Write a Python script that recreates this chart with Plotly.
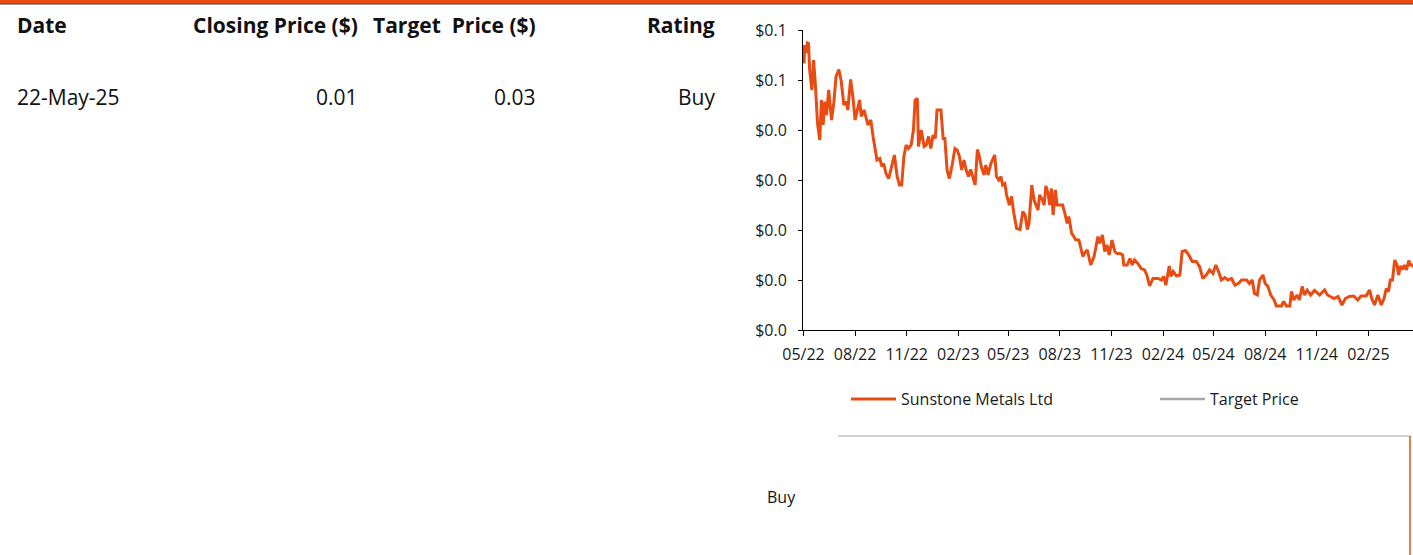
import plotly.graph_objects as go

W, H = 1413, 555

# ---------------- data ----------------
dates = [
    "2022-05-24", "2022-05-25", "2022-05-28", "2022-05-30", "2022-06-01", "2022-06-03", "2022-06-07", "2022-06-10",
    "2022-06-13", "2022-06-17", "2022-06-21", "2022-06-24", "2022-06-27", "2022-06-30", "2022-07-03", "2022-07-07",
    "2022-07-12", "2022-07-16", "2022-07-20", "2022-07-25", "2022-07-29", "2022-08-03", "2022-08-07", "2022-08-10",
    "2022-08-15", "2022-08-19", "2022-08-23", "2022-08-27", "2022-08-31", "2022-09-03", "2022-09-08", "2022-09-15",
    "2022-09-20", "2022-09-24", "2022-09-28", "2022-10-01", "2022-10-06", "2022-10-10", "2022-10-13", "2022-10-17",
    "2022-10-22", "2022-10-26", "2022-11-01", "2022-11-06", "2022-11-10", "2022-11-14", "2022-11-18", "2022-11-22",
    "2022-11-26", "2022-12-01", "2022-12-05", "2022-12-08", "2022-12-12", "2022-12-14", "2022-12-19", "2022-12-24",
    "2022-12-28", "2023-01-01", "2023-01-05", "2023-01-09", "2023-01-13", "2023-01-16", "2023-01-21", "2023-01-23",
    "2023-01-27", "2023-01-30", "2023-02-03", "2023-02-07", "2023-02-12", "2023-02-17", "2023-02-21", "2023-02-25",
    "2023-03-01", "2023-03-05", "2023-03-09", "2023-03-13", "2023-03-17", "2023-03-22", "2023-03-25", "2023-03-29",
    "2023-04-01", "2023-04-05", "2023-04-10", "2023-04-13", "2023-04-17", "2023-04-22", "2023-04-26", "2023-04-29",
    "2023-05-02", "2023-05-06", "2023-05-10", "2023-05-13", "2023-05-17", "2023-05-20", "2023-05-25", "2023-05-29",
    "2023-06-02", "2023-06-07", "2023-06-13", "2023-06-18", "2023-06-22", "2023-06-26", "2023-06-29", "2023-07-04",
    "2023-07-08", "2023-07-11", "2023-07-15", "2023-07-18", "2023-07-23", "2023-07-26", "2023-07-29", "2023-08-02",
    "2023-08-05", "2023-08-08", "2023-08-11", "2023-08-15", "2023-08-18", "2023-08-23", "2023-08-28", "2023-09-01",
    "2023-09-05", "2023-09-08", "2023-09-13", "2023-09-17", "2023-09-20", "2023-09-26", "2023-09-29", "2023-10-03",
    "2023-10-07", "2023-10-11", "2023-10-14", "2023-10-17", "2023-10-23", "2023-10-26", "2023-10-30", "2023-11-02",
    "2023-11-07", "2023-11-11", "2023-11-15", "2023-11-19", "2023-11-24", "2023-11-29", "2023-12-03", "2023-12-08",
    "2023-12-13", "2023-12-15", "2023-12-21", "2023-12-26", "2023-12-30", "2024-01-03", "2024-01-09", "2024-01-15",
    "2024-01-21", "2024-01-25", "2024-01-30", "2024-02-05", "2024-02-14", "2024-02-20", "2024-02-24", "2024-02-28",
    "2024-03-05", "2024-03-08", "2024-03-12", "2024-03-18", "2024-03-24", "2024-03-28", "2024-04-03", "2024-04-09",
    "2024-04-15", "2024-04-22", "2024-04-28", "2024-05-04", "2024-05-10", "2024-05-16", "2024-05-22", "2024-05-27",
    "2024-05-31", "2024-06-06", "2024-06-12", "2024-06-18", "2024-06-24", "2024-06-30", "2024-07-06", "2024-07-12",
    "2024-07-21", "2024-07-26", "2024-07-31", "2024-08-04", "2024-08-09", "2024-08-13", "2024-08-19", "2024-08-23",
    "2024-08-28", "2024-09-02", "2024-09-08", "2024-09-12", "2024-09-21", "2024-09-25", "2024-09-30", "2024-10-06",
    "2024-10-09", "2024-10-13", "2024-10-19", "2024-10-23", "2024-10-28", "2024-11-01", "2024-11-06", "2024-11-12",
    "2024-11-19", "2024-11-28", "2024-12-07", "2024-12-12", "2024-12-18", "2024-12-24", "2024-12-31", "2025-01-07",
    "2025-01-13", "2025-01-20", "2025-01-28", "2025-02-04", "2025-02-10", "2025-02-19", "2025-02-25", "2025-03-01",
    "2025-03-06", "2025-03-12", "2025-03-18", "2025-03-23", "2025-03-27", "2025-03-31", "2025-04-03", "2025-04-07",
    "2025-04-11", "2025-04-15", "2025-04-18", "2025-04-21", "2025-04-25", "2025-04-28", "2025-05-02", "2025-05-06",
    "2025-05-09", "2025-05-13", "2025-05-16", "2025-05-22",
]
prices = [
    0.0533, 0.0570, 0.0554, 0.0574, 0.0573, 0.0520, 0.0480, 0.0540,
    0.0494, 0.0414, 0.0380, 0.0460, 0.0410, 0.0457, 0.0430, 0.0480,
    0.0420, 0.0454, 0.0507, 0.0521, 0.0500, 0.0450, 0.0457, 0.0440,
    0.0501, 0.0467, 0.0420, 0.0440, 0.0460, 0.0427, 0.0440, 0.0410,
    0.0420, 0.0387, 0.0360, 0.0340, 0.0343, 0.0327, 0.0333, 0.0313,
    0.0303, 0.0320, 0.0350, 0.0307, 0.0290, 0.0290, 0.0347, 0.0370,
    0.0363, 0.0370, 0.0400, 0.0460, 0.0463, 0.0367, 0.0400, 0.0367,
    0.0370, 0.0387, 0.0363, 0.0390, 0.0383, 0.0440, 0.0441, 0.0440,
    0.0383, 0.0383, 0.0320, 0.0303, 0.0330, 0.0363, 0.0360, 0.0347,
    0.0320, 0.0340, 0.0320, 0.0307, 0.0321, 0.0300, 0.0290, 0.0361,
    0.0350, 0.0327, 0.0310, 0.0330, 0.0310, 0.0333, 0.0343, 0.0350,
    0.0307, 0.0300, 0.0307, 0.0290, 0.0293, 0.0270, 0.0250, 0.0267,
    0.0233, 0.0203, 0.0201, 0.0237, 0.0230, 0.0201, 0.0213, 0.0290,
    0.0260, 0.0250, 0.0240, 0.0270, 0.0260, 0.0250, 0.0288, 0.0273,
    0.0250, 0.0283, 0.0230, 0.0280, 0.0250, 0.0250, 0.0250, 0.0233,
    0.0213, 0.0227, 0.0193, 0.0187, 0.0181, 0.0180, 0.0165, 0.0147,
    0.0155, 0.0160, 0.0145, 0.0130, 0.0147, 0.0165, 0.0187, 0.0173,
    0.0190, 0.0157, 0.0170, 0.0150, 0.0180, 0.0157, 0.0153, 0.0153,
    0.0150, 0.0130, 0.0130, 0.0143, 0.0130, 0.0140, 0.0133, 0.0123,
    0.0120, 0.0110, 0.0088, 0.0103, 0.0103, 0.0100, 0.0107, 0.0090,
    0.0128, 0.0107, 0.0117, 0.0108, 0.0110, 0.0157, 0.0159, 0.0150,
    0.0137, 0.0137, 0.0127, 0.0103, 0.0110, 0.0120, 0.0113, 0.0130,
    0.0120, 0.0100, 0.0105, 0.0100, 0.0103, 0.0090, 0.0093, 0.0100,
    0.0100, 0.0093, 0.0100, 0.0073, 0.0070, 0.0100, 0.0110, 0.0093,
    0.0087, 0.0070, 0.0060, 0.0048, 0.0048, 0.0057, 0.0048, 0.0048,
    0.0077, 0.0060, 0.0070, 0.0060, 0.0087, 0.0070, 0.0080, 0.0070,
    0.0079, 0.0070, 0.0080, 0.0070, 0.0067, 0.0063, 0.0067, 0.0050,
    0.0063, 0.0067, 0.0068, 0.0060, 0.0068, 0.0068, 0.0080, 0.0063,
    0.0050, 0.0070, 0.0050, 0.0063, 0.0083, 0.0077, 0.0100, 0.0100,
    0.0140, 0.0130, 0.0110, 0.0128, 0.0121, 0.0130, 0.0120, 0.0139,
    0.0130, 0.0130, 0.0125, 0.0130,
]
target_dates = ["2025-05-22"]
target_prices = [0.03]

x_tick_dates = ["2022-05-23", "2022-08-23", "2022-11-23", "2023-02-23", "2023-05-23", "2023-08-23",
                "2023-11-23", "2024-02-23", "2024-05-23", "2024-08-23", "2024-11-23", "2025-02-23"]
x_tick_labels = ["05/22", "08/22", "11/22", "02/23", "05/23", "08/23",
                 "11/23", "02/24", "05/24", "08/24", "11/24", "02/25"]
y_tick_vals = [0.0, 0.01, 0.02, 0.03, 0.04, 0.05, 0.06]
y_tick_labels = ["$0.0", "$0.0", "$0.0", "$0.0", "$0.0", "$0.1", "$0.1"]

table_headers = ["Date", "Closing Price ($)", "Target  Price ($)", "Rating"]
table_row = ["22-May-25", "0.01", "0.03", "Buy"]
rating_label = "Buy"

ORANGE = "#E84C12"
GREY = "#A6A6A6"
FONT = "Open Sans"


def px(x):
    return x / W


def py(y):
    return 1 - y / H


fig = go.Figure()
fig.add_trace(go.Scatter(x=dates, y=prices, mode="lines", name="Sunstone Metals Ltd",
                         line=dict(color=ORANGE, width=3), cliponaxis=True))
fig.add_trace(go.Scatter(x=target_dates, y=target_prices, mode="lines", name="Target Price",
                         line=dict(color=GREY, width=2.5)))

fig.update_layout(
    width=W, height=H,
    margin=dict(l=0, r=0, t=0, b=0, pad=0, autoexpand=False),
    paper_bgcolor="white", plot_bgcolor="white",
    font=dict(family=FONT, color="#1a1a1a", size=14),
    showlegend=True,
    legend=dict(orientation="h", x=px(846), y=py(399), xanchor="left", yanchor="middle",
                font=dict(size=16, family=FONT, color="#1a1a1a"),
                entrywidth=249, entrywidthmode="pixels", bgcolor="rgba(0,0,0,0)",
                itemwidth=45, tracegroupgap=0),
    xaxis=dict(
        domain=[px(803), 1.0],
        range=["2022-05-22 03:00", "2025-05-13 14:00"],
        type="date",
        tickvals=x_tick_dates, ticktext=x_tick_labels, tickangle=0,
        ticks="outside", ticklen=5, tickcolor="#000", tickwidth=1,
        showline=True, linecolor="#000", linewidth=1,
        showgrid=False, zeroline=False,
        ticklabelstandoff=5,
        tickfont=dict(size=16, family=FONT, color="#1a1a1a"),
    ),
    yaxis=dict(
        domain=[py(330), py(30)],
        range=[0, 0.06],
        tickvals=y_tick_vals, ticktext=y_tick_labels,
        ticks="outside", ticklen=4, tickcolor="#000", tickwidth=1,
        showline=True, linecolor="#000", linewidth=1,
        showgrid=False, zeroline=False,
        ticklabelstandoff=8,
        tickfont=dict(size=16, family=FONT, color="#1a1a1a"),
    ),
)

shapes = [
    dict(type="rect", xref="paper", yref="paper", x0=0, x1=1, y0=py(3.2), y1=1,
         fillcolor=ORANGE, line=dict(width=0), layer="above"),
    dict(type="line", xref="paper", yref="paper", x0=0, x1=1, y0=py(3.9), y1=py(3.9),
         line=dict(color="#333333", width=1.2)),
    dict(type="line", xref="paper", yref="paper", x0=px(838), x1=px(1410), y0=py(436), y1=py(436),
         line=dict(color="#C0C0C0", width=1.5)),
    dict(type="line", xref="paper", yref="paper", x0=px(1410), x1=px(1410), y0=py(436), y1=0,
         line=dict(color=ORANGE, width=1.5)),
]
fig.update_layout(shapes=shapes)

hdr_x = [15, 360, 538, 717]
hdr_anchor = ["left", "right", "right", "right"]
ann = []
for t, x, a in zip(table_headers, hdr_x, hdr_anchor):
    ann.append(dict(text="<b>" + t + "</b>", x=px(x), y=py(25), xref="paper", yref="paper",
                    xanchor=a, yanchor="middle", showarrow=False,
                    font=dict(size=21, family=FONT, color="#111")))
for t, x, a in zip(table_row, hdr_x, hdr_anchor):
    ann.append(dict(text=t, x=px(x), y=py(97), xref="paper", yref="paper",
                    xanchor=a, yanchor="middle", showarrow=False,
                    font=dict(size=21, family=FONT, color="#111")))
ann.append(dict(text=rating_label, x=px(765), y=py(497), xref="paper", yref="paper",
                xanchor="left", yanchor="middle", showarrow=False,
                font=dict(size=16, family=FONT, color="#111")))
fig.update_layout(annotations=ann)

fig.write_html("out.html", config={"displayModeBar": False},
               post_script="document.body.style.margin='0';")
